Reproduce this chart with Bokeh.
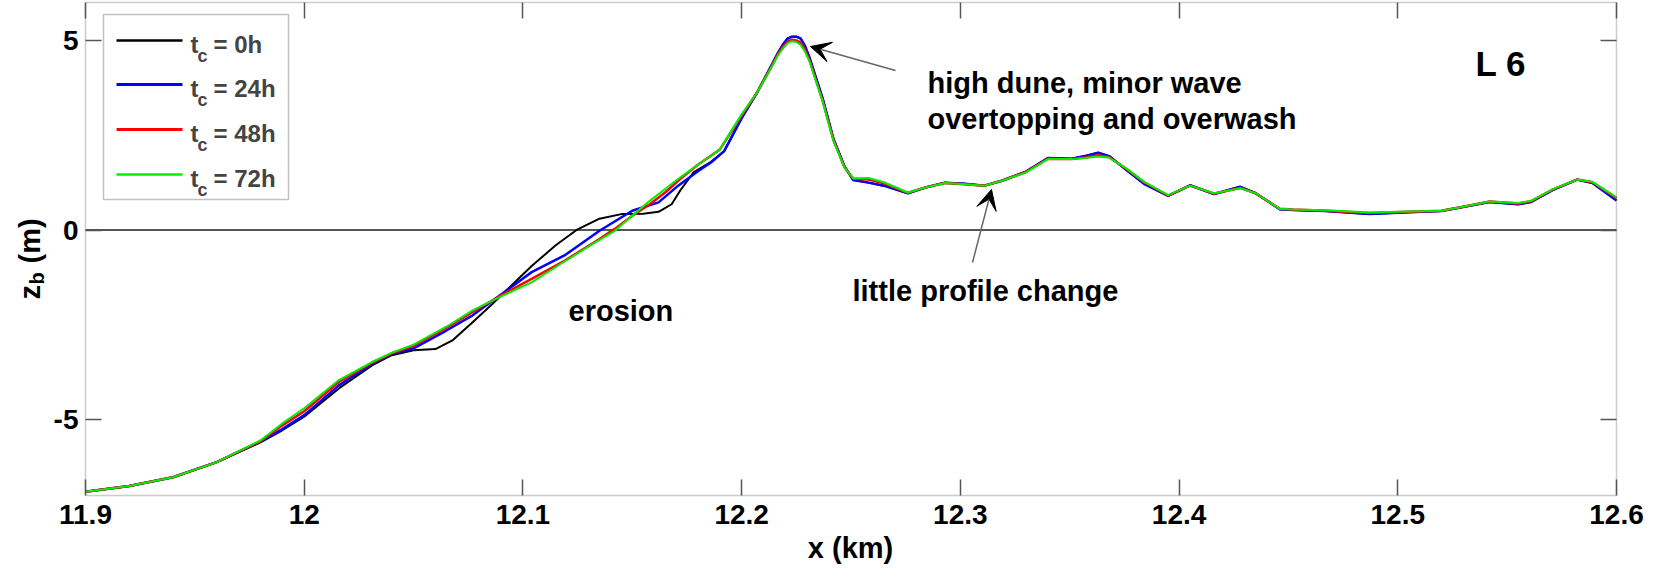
import math
from bokeh.plotting import figure
from bokeh.models import Range1d, FixedTicker, Label, Arrow, VeeHead, BoxAnnotation, LinearAxis
from bokeh.embed import file_html
from bokeh.resources import INLINE

# ---------------- data ----------------
x_ticks = [11.9, 12.0, 12.1, 12.2, 12.3, 12.4, 12.5, 12.6]
x_tick_labels = ["11.9", "12", "12.1", "12.2", "12.3", "12.4", "12.5", "12.6"]
y_ticks = [-5, 0, 5]
y_tick_labels = ["-5", "0", "5"]

# right part (dune and back-barrier), shared x positions
x_right = [12.200, 12.207, 12.214, 12.2165, 12.219, 12.221, 12.223, 12.225, 12.227, 12.229,
           12.231, 12.237, 12.242, 12.247,
           12.251, 12.258, 12.265, 12.276, 12.284, 12.293, 12.302, 12.311, 12.319, 12.330,
           12.340, 12.351, 12.357, 12.363, 12.368, 12.376, 12.384, 12.395, 12.405, 12.416,
           12.428, 12.435, 12.446, 12.452, 12.467, 12.487, 12.505, 12.520, 12.531, 12.542,
           12.555, 12.561, 12.571, 12.582, 12.589, 12.600]

# t_c = 0h
x_0h_left = [11.900, 11.920, 11.940, 11.960, 11.980, 11.990, 12.000, 12.016, 12.031, 12.040,
             12.050, 12.060, 12.068, 12.077, 12.086, 12.095, 12.104, 12.115, 12.125, 12.135,
             12.145, 12.155, 12.162, 12.168, 12.172, 12.178, 12.186, 12.192]
z_0h_left = [-6.90, -6.75, -6.52, -6.12, -5.60, -5.28, -4.92, -4.17, -3.57, -3.30,
             -3.17, -3.14, -2.90, -2.43, -1.95, -1.45, -0.95, -0.40, 0.02, 0.30,
             0.42, 0.43, 0.48, 0.68, 1.05, 1.52, 1.80, 2.08]
z_0h_right = [2.95, 3.62, 4.38, 4.66, 4.90, 5.05, 5.10, 5.10, 5.05, 4.85,
              4.55, 3.48, 2.40, 1.68,
              1.32, 1.25, 1.17, 0.97, 1.12, 1.25, 1.22, 1.17, 1.30, 1.54,
              1.90, 1.88, 1.95, 2.04, 1.95, 1.58, 1.22, 0.90, 1.18, 0.95,
              1.14, 0.97, 0.55, 0.53, 0.50, 0.42, 0.47, 0.50, 0.62, 0.74,
              0.68, 0.74, 1.06, 1.33, 1.24, 0.78]

# t_c = 24h
x_24h_left = [11.900, 11.920, 11.940, 11.960, 11.980, 11.990, 12.000, 12.016, 12.031, 12.040,
              12.050, 12.065, 12.077, 12.090, 12.104, 12.119, 12.135, 12.150, 12.155, 12.162,
              12.171, 12.180, 12.186, 12.192]
z_24h_left = [-6.90, -6.75, -6.52, -6.12, -5.58, -5.25, -4.88, -4.09, -3.53, -3.26,
              -3.12, -2.65, -2.25, -1.70, -1.11, -0.67, -0.02, 0.51, 0.60, 0.73,
              1.17, 1.55, 1.78, 2.08]
z_24h_right = [2.95, 3.62, 4.38, 4.66, 4.90, 5.05, 5.10, 5.10, 5.05, 4.85,
               4.55, 3.48, 2.40, 1.68,
               1.32, 1.25, 1.17, 0.97, 1.12, 1.25, 1.22, 1.17, 1.30, 1.54,
               1.90, 1.88, 1.95, 2.04, 1.95, 1.58, 1.22, 0.90, 1.18, 0.95,
               1.14, 0.97, 0.55, 0.53, 0.50, 0.42, 0.47, 0.50, 0.62, 0.74,
               0.68, 0.74, 1.06, 1.33, 1.24, 0.78]

# t_c = 48h
x_48h_left = [11.900, 11.920, 11.940, 11.960, 11.980, 11.990, 12.000, 12.016, 12.031, 12.040,
              12.050, 12.065, 12.077, 12.090, 12.104, 12.119, 12.135, 12.142, 12.150, 12.158,
              12.165, 12.172, 12.180, 12.190]
z_48h_left = [-6.90, -6.75, -6.52, -6.12, -5.57, -5.15, -4.78, -4.00, -3.50, -3.25,
              -3.05, -2.58, -2.16, -1.72, -1.29, -0.81, -0.24, 0.03, 0.38, 0.68,
              0.99, 1.35, 1.72, 2.12]
z_48h_right = [3.02, 3.62, 4.35, 4.63, 4.84, 4.97, 5.02, 5.00, 4.94, 4.76,
               4.48, 3.42, 2.37, 1.66,
               1.35, 1.33, 1.23, 0.98, 1.12, 1.24, 1.21, 1.17, 1.30, 1.53,
               1.88, 1.87, 1.91, 1.97, 1.92, 1.61, 1.26, 0.91, 1.17, 0.96,
               1.11, 0.97, 0.56, 0.54, 0.51, 0.45, 0.48, 0.51, 0.63, 0.75,
               0.70, 0.76, 1.07, 1.33, 1.26, 0.84]

# t_c = 72h
x_72h_left = [11.900, 11.920, 11.940, 11.960, 11.980, 11.990, 12.000, 12.016, 12.031, 12.040,
              12.050, 12.065, 12.077, 12.090, 12.104, 12.119, 12.131, 12.142, 12.150, 12.158,
              12.165, 12.172, 12.180, 12.190]
z_72h_left = [-6.90, -6.75, -6.52, -6.12, -5.55, -5.10, -4.70, -3.95, -3.48, -3.24,
              -3.02, -2.55, -2.12, -1.75, -1.38, -0.83, -0.40, -0.02, 0.38, 0.77,
              1.08, 1.39, 1.72, 2.12]
z_72h_right = [3.05, 3.62, 4.33, 4.60, 4.80, 4.93, 4.98, 4.96, 4.88, 4.70,
               4.45, 3.40, 2.35, 1.65,
               1.36, 1.37, 1.26, 0.99, 1.12, 1.24, 1.21, 1.17, 1.30, 1.52,
               1.87, 1.87, 1.90, 1.94, 1.91, 1.62, 1.27, 0.92, 1.17, 0.97,
               1.10, 0.97, 0.56, 0.54, 0.52, 0.46, 0.49, 0.51, 0.63, 0.75,
               0.71, 0.77, 1.08, 1.33, 1.27, 0.86]

series_labels = ["0h", "24h", "48h", "72h"]
series_colors = ["#000000", "#0000ff", "#ff0000", "#00ee00"]
series_widths = [2.0, 2.5, 2.5, 2.0]

# ---------------- layout (page pixels) ----------------
W, H, M = 1644, 565, 8          # canvas size, page margin
FL, FR, FT, FB = 93, 1624, 10, 503   # visible axes box in page pixels
XMIN, XMAX, YMIN, YMAX = 11.9, 12.6, -7.0, 6.0
SX = (XMAX - XMIN) / (FR - FL)
SY = (YMAX - YMIN) / (FB - FT)


def X(px):
    return XMIN + (px - FL) * SX


def Y(py):
    return YMAX - (py - FT) * SY


FONT = "Liberation Sans"
AX = "#555555"

# the whole canvas is the frame; axes are pinned at the box edges
p = figure(width=W, height=H,
           x_range=Range1d(X(M), X(M + W)), y_range=Range1d(Y(M + H), Y(M)),
           output_backend="svg", toolbar_location=None,
           min_border=0, x_axis_location=None, y_axis_location=None)
p.grid.visible = False
p.outline_line_color = None
p.background_fill_color = "white"
p.border_fill_color = "white"


def make_axis(ticks, labels, loc, show_labels, standoff):
    ax = LinearAxis(fixed_location=loc, ticker=FixedTicker(ticks=ticks))
    ax.major_label_overrides = {t: s for t, s in zip(ticks, labels)}
    ax.bounds = (min(ticks[0], ticks[-1]), max(ticks[0], ticks[-1]))
    ax.major_tick_in = 16
    ax.major_tick_out = 0
    ax.minor_tick_line_color = None
    ax.axis_line_color = None
    ax.major_tick_line_color = AX
    ax.major_tick_line_width = 1.5
    ax.major_label_text_font = FONT
    ax.major_label_text_font_style = "bold"
    ax.major_label_text_font_size = "28px"
    ax.major_label_text_color = "black" if show_labels else None
    ax.major_label_standoff = standoff
    return ax


p.add_layout(make_axis(x_ticks, x_tick_labels, YMIN, True, 9), "below")
p.add_layout(make_axis(y_ticks, y_tick_labels, XMIN, True, 7), "left")
p.add_layout(make_axis(x_ticks, x_tick_labels, YMAX, False, 0), "above")
p.add_layout(make_axis(y_ticks, y_tick_labels, XMAX, False, 0), "right")

# axes box
p.add_layout(BoxAnnotation(left=XMIN, right=XMAX, bottom=YMIN, top=YMAX,
                           fill_color=None, fill_alpha=0, line_color=AX, line_width=1.5,
                           level="overlay"))

# zero line
p.segment(x0=[XMIN], y0=[0], x1=[XMAX], y1=[0], line_color=AX, line_width=2)

# profiles
profiles = [
    (x_0h_left + x_right, z_0h_left + z_0h_right),
    (x_24h_left + x_right, z_24h_left + z_24h_right),
    (x_48h_left + x_right, z_48h_left + z_48h_right),
    (x_72h_left + x_right, z_72h_left + z_72h_right),
]
for (xs, zs), c, w in zip(profiles, series_colors, series_widths):
    p.line(xs, zs, line_color=c, line_width=w, line_join="round")

# legend
p.add_layout(BoxAnnotation(left=X(111), right=X(296), top=Y(22), bottom=Y(207),
                           fill_color=None, fill_alpha=0, line_color="#333333", line_width=1.5,
                           level="overlay"))
rows = [48, 92, 137, 182]
for r, lab, c, w in zip(rows, series_labels, series_colors, series_widths):
    p.line([X(124), X(190)], [Y(r), Y(r)], line_color=c, line_width=w + 0.5)
    p.add_layout(Label(x=X(198), y=Y(r + 4), text="t", text_font=FONT, text_font_style="bold",
                       text_font_size="24px", text_baseline="alphabetic", text_align="left"))
    p.add_layout(Label(x=X(205), y=Y(r + 15), text="c", text_font=FONT, text_font_style="bold",
                       text_font_size="18px", text_baseline="alphabetic", text_align="left"))
    p.add_layout(Label(x=X(221), y=Y(r + 4), text="= " + lab, text_font=FONT, text_font_style="bold",
                       text_font_size="24px", text_baseline="alphabetic", text_align="left"))


def txt(px, py, s, size="29px", align="left", angle=0.0):
    p.add_layout(Label(x=X(px), y=Y(py), text=s, text_font=FONT, text_font_style="bold",
                       text_font_size=size, text_baseline="alphabetic", text_align=align,
                       text_color="black", angle=angle))


txt(935, 90, "high dune, minor wave")
txt(935, 126, "overtopping and overwash")
txt(860, 298, "little profile change")
txt(576, 318, "erosion")
txt(1483, 71, "L 6", size="35px")

# arrows
p.add_layout(Arrow(end=VeeHead(size=20, fill_color="black", line_color="black", line_width=1),
                   x_start=X(903), y_start=Y(78), x_end=X(818), y_end=Y(54),
                   line_color="#666666", line_width=1.5))
p.add_layout(Arrow(end=VeeHead(size=20, fill_color="black", line_color="black", line_width=1),
                   x_start=X(980), y_start=Y(270), x_end=X(999), y_end=Y(197),
                   line_color="#666666", line_width=1.5))

# axis labels
txt(858, 555, "x (km)", align="center")
ang = math.pi / 2
txt(37, 307, "z", angle=ang)
txt(44, 292, "b", size="20px", angle=ang)
txt(37, 271, "(m)", angle=ang)

open("out.html", "w").write(file_html(p, INLINE))
